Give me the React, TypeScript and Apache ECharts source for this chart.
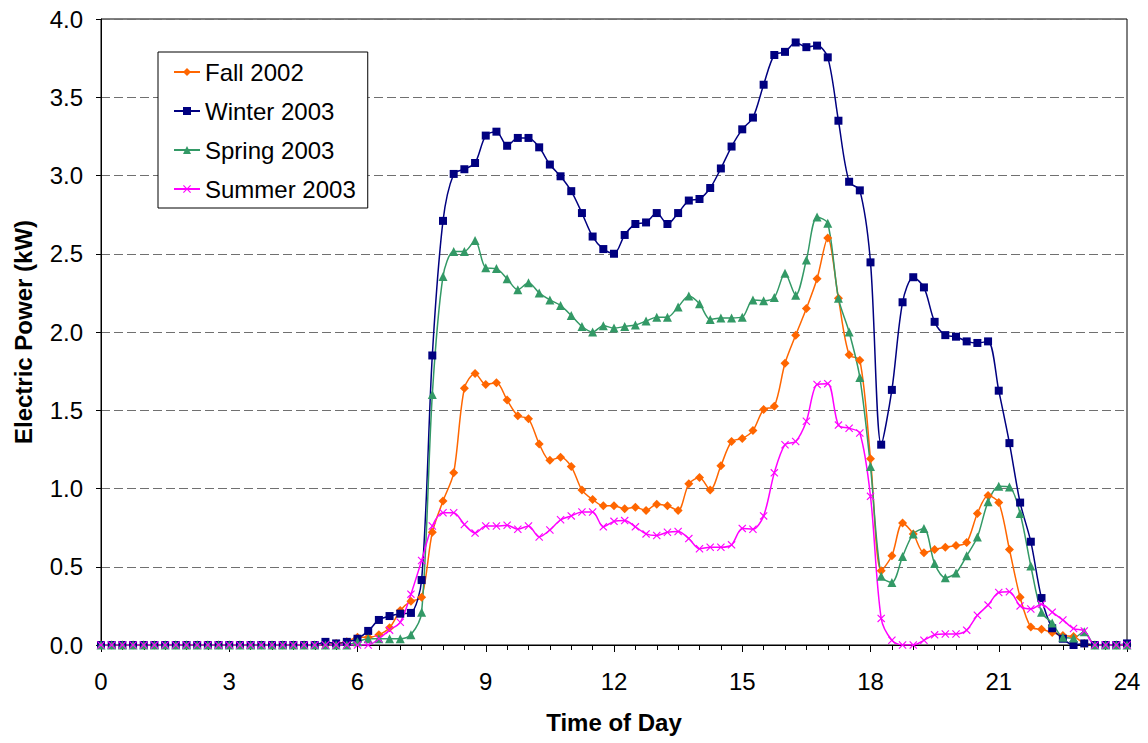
import React, { useEffect, useRef } from "react";
import * as echarts from "echarts";

// Time of day in hours, sampled every 15 minutes (0:00 .. 24:00)
const timeOfDay: number[] = Array.from({ length: 97 }, (_, i) => i / 4);

const xTickLabels = ["0", "3", "6", "9", "12", "15", "18", "21", "24"];
const yTickLabels = ["0.0", "0.5", "1.0", "1.5", "2.0", "2.5", "3.0", "3.5", "4.0"];

const seriesNames = ["Fall 2002", "Winter 2003", "Spring 2003", "Summer 2003"];

const fall2002: number[] = [
  0, 0, 0, 0, 0, 0, 0, 0, 0, 0, 0, 0, 0, 0, 0, 0, 0, 0, 0, 0, 0, 0,
  0.01, 0.02, 0.05, 0.05, 0.065, 0.11, 0.22, 0.28, 0.305,
  0.72, 0.92, 1.10, 1.64, 1.735, 1.665, 1.675, 1.565, 1.465, 1.445,
  1.285, 1.18, 1.20, 1.14, 0.99, 0.93, 0.89, 0.89, 0.87, 0.88,
  0.86, 0.90, 0.89, 0.86, 1.03, 1.07, 0.99, 1.145, 1.30, 1.32,
  1.37, 1.505, 1.525, 1.80, 1.98, 2.15, 2.34, 2.60, 2.215, 1.855,
  1.82, 1.19, 0.475, 0.57, 0.78, 0.71, 0.59, 0.61, 0.625, 0.635,
  0.655, 0.84, 0.955, 0.91, 0.61, 0.305, 0.115, 0.10, 0.08, 0.06,
  0.055, 0.01, 0, 0, 0, 0,
];

const winter2003: number[] = [
  0, 0, 0, 0, 0, 0, 0, 0, 0, 0, 0, 0, 0, 0, 0, 0, 0, 0, 0, 0, 0,
  0.02, 0.01, 0.02, 0.04, 0.09, 0.16, 0.185, 0.20, 0.205, 0.415,
  1.85, 2.71, 3.01, 3.04, 3.08, 3.255, 3.28, 3.19, 3.24, 3.24,
  3.18, 3.07, 2.995, 2.90, 2.76, 2.61, 2.53, 2.50, 2.62, 2.69,
  2.70, 2.76, 2.69, 2.76, 2.84, 2.85, 2.92, 3.045, 3.185, 3.295,
  3.37, 3.58, 3.77, 3.79, 3.85, 3.82, 3.83, 3.755, 3.35, 2.96,
  2.905, 2.445, 1.28, 1.63, 2.19, 2.35, 2.285, 2.065, 1.98, 1.97,
  1.94, 1.93, 1.94, 1.625, 1.29, 0.91, 0.66, 0.30, 0.107, 0.04,
  0, 0.01, 0, 0, 0, 0.01,
];

const spring2003: number[] = [
  0, 0, 0, 0, 0, 0, 0, 0, 0, 0, 0, 0, 0, 0, 0, 0, 0, 0, 0, 0, 0, 0, 0, 0,
  0.02, 0.04, 0.04, 0.04, 0.04, 0.065, 0.21,
  1.60, 2.355, 2.515, 2.515, 2.585, 2.41, 2.405, 2.34, 2.27, 2.315,
  2.25, 2.205, 2.17, 2.105, 2.035, 2.00, 2.04, 2.025, 2.035, 2.045,
  2.07, 2.095, 2.095, 2.16, 2.23, 2.18, 2.08, 2.09, 2.09, 2.095,
  2.205, 2.20, 2.22, 2.375, 2.235, 2.46, 2.735, 2.695, 2.215, 2.00,
  1.71, 1.14, 0.44, 0.40, 0.565, 0.71, 0.745, 0.52, 0.43, 0.46,
  0.57, 0.69, 0.915, 1.015, 1.01, 0.84, 0.505, 0.21, 0.14, 0.05,
  0.045, 0.085, 0, 0, 0, 0,
];

const summer2003: number[] = [
  0, 0, 0, 0, 0, 0, 0, 0, 0, 0, 0, 0, 0, 0, 0, 0, 0, 0, 0, 0, 0, 0, 0, 0, 0, 0,
  0.04, 0.095, 0.145, 0.325, 0.54,
  0.76, 0.845, 0.845, 0.77, 0.715, 0.76, 0.76, 0.765, 0.74, 0.76,
  0.69, 0.735, 0.80, 0.825, 0.85, 0.85, 0.755, 0.79, 0.795, 0.755,
  0.71, 0.70, 0.72, 0.725, 0.68, 0.615, 0.625, 0.625, 0.64, 0.745,
  0.74, 0.825, 1.10, 1.28, 1.30, 1.43, 1.665, 1.67, 1.405, 1.385,
  1.355, 0.95, 0.17, 0.03, 0, 0, 0.03, 0.065, 0.07, 0.07,
  0.095, 0.19, 0.255, 0.335, 0.34, 0.25, 0.23, 0.26, 0.21, 0.16,
  0.105, 0.09, 0, 0, 0, 0,
];

const FONT = "'Liberation Sans', Arial, Helvetica, sans-serif";
const X_SYMBOL =
  "path://M0,1 L1,0 L5,4 L9,0 L10,1 L6,5 L10,9 L9,10 L5,6 L1,10 L0,9 L4,5 Z";

export default function App() {
  const ref = useRef<HTMLDivElement>(null);

  useEffect(() => {
    if (!ref.current) return;
    const chart = echarts.init(ref.current, undefined, { renderer: "svg" });

    const toData = (vals: number[]) => timeOfDay.map((t, i) => [t, vals[i]]);

    const mk = (
      name: string,
      vals: number[],
      color: string,
      symbol: string,
      symbolSize: number
    ) => ({
      name,
      type: "line",
      data: toData(vals),
      smooth: 0.3,
      symbol,
      symbolSize,
      showSymbol: true,
      lineStyle: { color, width: 1.5 },
      itemStyle: { color, borderWidth: 0 },
      emphasis: { disabled: true },
    });

    chart.setOption({
      animation: false,
      backgroundColor: "#ffffff",
      textStyle: { fontFamily: FONT },
      grid: {
        left: 101,
        top: 19,
        right: 21,
        bottom: 98,
        show: true,
        borderColor: "#000000",
        borderWidth: 1,
        backgroundColor: "transparent",
      },
      legend: {
        orient: "vertical",
        left: 158,
        top: 52,
        padding: [8, 12, 7, 15],
        itemWidth: 26,
        itemHeight: 10,
        itemGap: 15,
        borderColor: "#000000",
        borderWidth: 1,
        backgroundColor: "#ffffff",
        data: seriesNames,
        textStyle: { fontSize: 24, color: "#000000", fontFamily: FONT },
      },
      xAxis: {
        type: "value",
        min: 0,
        max: 24,
        interval: 3,
        name: "Time of Day",
        nameLocation: "middle",
        nameGap: 65,
        nameTextStyle: {
          fontSize: 24,
          fontWeight: "bold",
          color: "#000000",
          fontFamily: FONT,
        },
        axisLine: { show: true, onZero: false, lineStyle: { color: "#000000", width: 1 } },
        axisTick: { show: true, length: 7, inside: false, lineStyle: { color: "#000000" } },
        minorTick: { show: true, splitNumber: 6, length: 5, lineStyle: { color: "#000000" } },
        splitLine: { show: false },
        axisLabel: {
          fontSize: 24,
          color: "#000000",
          margin: 24,
          fontFamily: FONT,
          formatter: (v: number) => xTickLabels[Math.round(v / 3)] ?? "",
        },
      },
      yAxis: {
        type: "value",
        min: 0,
        max: 4,
        interval: 0.5,
        name: "Electric Power (kW)",
        nameLocation: "middle",
        nameGap: 66,
        nameTextStyle: {
          fontSize: 24,
          fontWeight: "bold",
          color: "#000000",
          fontFamily: FONT,
        },
        axisLine: { show: true, lineStyle: { color: "#000000", width: 1 } },
        axisTick: { show: true, length: 5, lineStyle: { color: "#000000" } },
        splitLine: {
          show: true,
          lineStyle: { color: "#707070", width: 1, type: [9, 4] },
        },
        axisLabel: {
          fontSize: 24,
          color: "#000000",
          margin: 18,
          fontFamily: FONT,
          formatter: (v: number) => yTickLabels[Math.round(v / 0.5)] ?? "",
        },
      },
      series: [
        mk(seriesNames[0], fall2002, "#FF6600", "diamond", 9),
        mk(seriesNames[1], winter2003, "#000080", "rect", 8),
        mk(seriesNames[2], spring2003, "#339966", "triangle", 9),
        mk(seriesNames[3], summer2003, "#FF00FF", X_SYMBOL, 8),
      ],
    });

    return () => {
      chart.dispose();
    };
  }, []);

  return (
    <div
      ref={ref}
      style={{ position: "absolute", left: 0, top: 0, width: 1148, height: 743 }}
    />
  );
}
